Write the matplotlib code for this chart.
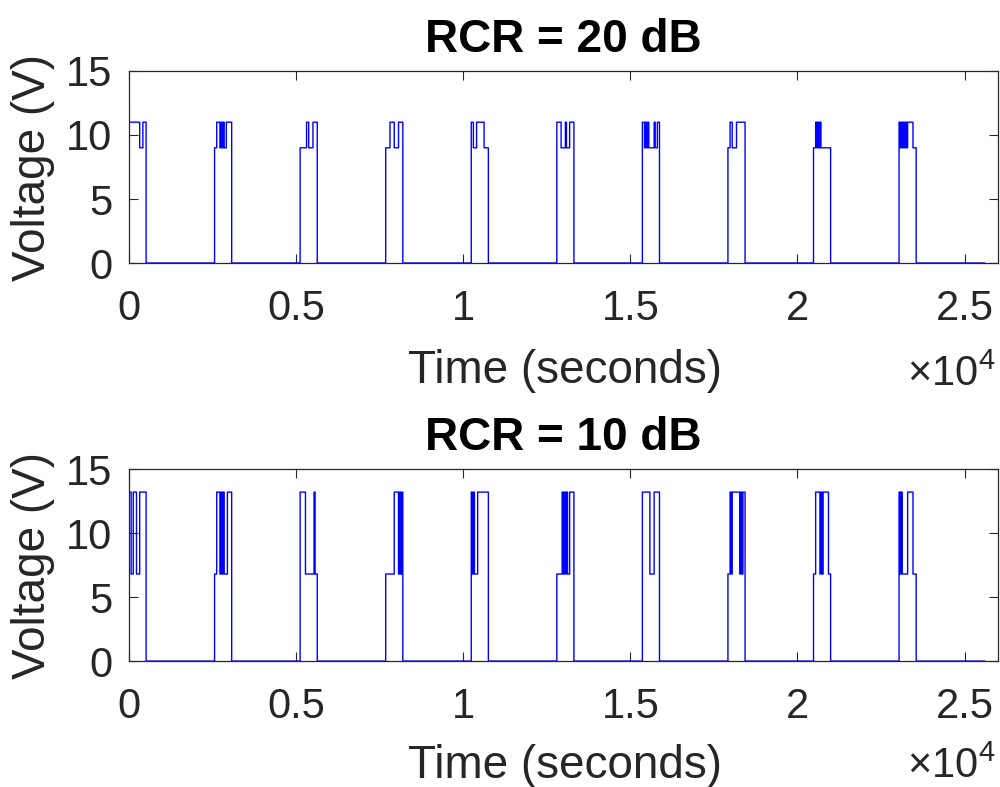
import numpy as np
import matplotlib
matplotlib.use("Agg")
import matplotlib.pyplot as plt
from matplotlib.ticker import FuncFormatter

plt.rcParams['font.family'] = ['Liberation Sans', 'DejaVu Sans']
plt.rcParams['mathtext.fontset'] = 'custom'
plt.rcParams['mathtext.rm'] = 'Liberation Sans'
plt.rcParams['mathtext.it'] = 'Liberation Sans'

# ---- data ----
titles = ["RCR = 20 dB", "RCR = 10 dB"]
sample_dt = 32          # seconds per step inside a pulse
pulse_period = 2560     # seconds between pulse starts
end_time = 25600        # last time of the signal

levels_20dB = {"H": 11.0, "M": 9.0}
levels_10dB = {"H": 13.2, "M": 6.8}

pulses_20dB = [
    "HHHHHHHHHHMMMHHH",
    "MMHHHMHMHMMHHHHH",
    "MMMMMMHHMMMMHHHH",
    "MMMMHHHHMMMMHHHH",
    "HHMMMHHHHHHHMMMM",
    "HHHHMMMMHMMMHHHH",
    "HHMHMHMMMMMHMMHH",
    "MMHHMMMMHHHHHHHH",
    "MMHMHMHMMMMMMMMM",
    "HMHMHMHMHHHHHMMM",
]
pulses_10dB = [
    "HHMMHHHMMMHHHHHH",
    "MMHHHMHMHMMMHHHH",
    "HHHHHMMMMMMMMHMM",
    "MMMMMMMMHHHHMHMH",
    "HMHMMMHHHHHHHHHH",
    "MMMMMHMHMHMMHHHH",
    "HHHHHHHMMMMHHHHH",
    "MMHMHHHHHHHMHMHH",
    "MMHHHHMHMHHHHHMM",
    "HMHMMMMMHHHHHMMM",
]

xticks = [0, 5000, 10000, 15000, 20000, 25000]
yticks = [0, 5, 10, 15]


def build_signal(pulses, levels):
    n_per_period = pulse_period // sample_dt
    vals = []
    for p in pulses:
        seg = [levels[c] for c in p]
        seg += [0.0] * (n_per_period - len(seg))
        vals.extend(seg)
    t = np.arange(len(vals)) * sample_dt
    t = np.append(t, end_time)
    vals = np.append(vals, 0.0)
    return t, vals


fig = plt.figure(figsize=(10, 7.87), dpi=100)
axes_rects = [[0.129, 0.6658, 0.869, 0.244], [0.129, 0.160, 0.869, 0.244]]
datasets = [(pulses_20dB, levels_20dB), (pulses_10dB, levels_10dB)]
offset_y = [0.5095, 0.011]
xlabel_y = [-0.45, -0.43]

fmt = FuncFormatter(lambda v, pos: ('%g' % (v / 1e4)))
axis_color = '#262626'

for rect, (pulses, lev), title, oy, ly in zip(axes_rects, datasets, titles,
                                              offset_y, xlabel_y):
    ax = fig.add_axes(rect)
    t, v = build_signal(pulses, lev)
    ax.plot(t, v, drawstyle='steps-post', color=(0, 0, 1), lw=1.0)
    ax.set_xlim(0, 26000)
    ax.set_ylim(0, 15)
    ax.set_xticks(xticks)
    ax.set_yticks(yticks)
    ax.xaxis.set_major_formatter(fmt)
    ax.tick_params(direction='in', length=6.5, width=0.8, colors=axis_color,
                   labelsize=30, top=True, right=True)
    ax.tick_params(axis='x', pad=19)
    ax.tick_params(axis='y', pad=12)
    for s in ax.spines.values():
        s.set_color(axis_color)
        s.set_linewidth(0.9)
    ax.set_title(title, fontsize=33, fontweight='bold', pad=14, color='black')
    ax.set_xlabel("Time (seconds)", fontsize=33, color=axis_color)
    ax.set_ylabel("Voltage (V)", fontsize=33, color=axis_color)
    ax.xaxis.set_label_coords(0.502, ly)
    ax.yaxis.set_label_coords(-0.085, 0.5)
    fig.text(0.995, oy, r'$\times10^{4}$', ha='right', va='baseline',
             fontsize=30, color=axis_color)

fig.savefig("out.png", dpi=100, facecolor='white')
